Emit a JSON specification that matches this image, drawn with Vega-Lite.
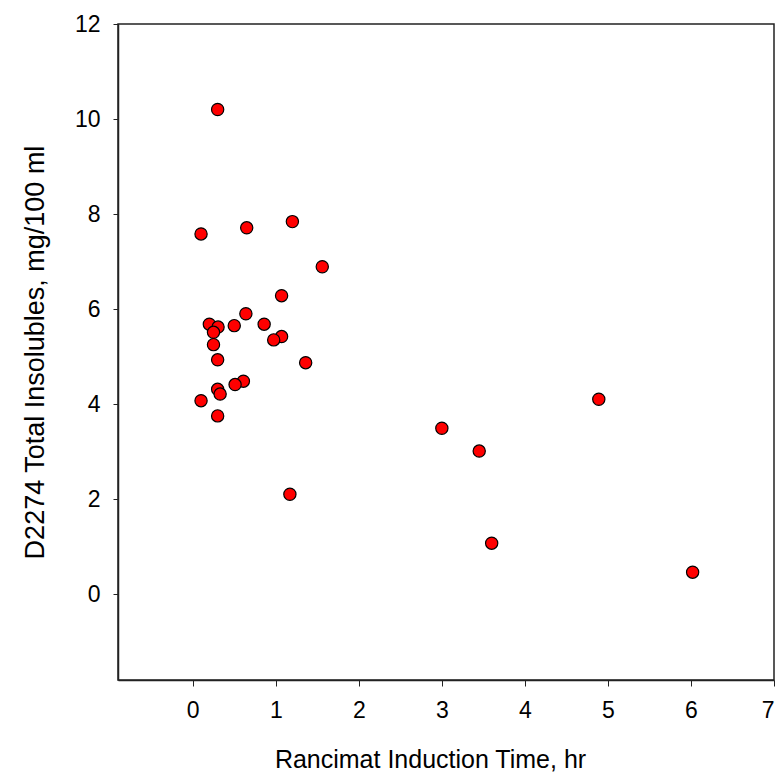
{
  "$schema": "https://vega.github.io/schema/vega-lite/v6.json",
  "width": 656,
  "height": 656,
  "autosize": "none",
  "padding": {"left": 118, "top": 24, "right": 2, "bottom": 99},
  "background": "white",
  "config": {
    "font": "Liberation Sans",
    "view": {"stroke": "#222", "strokeWidth": 1.5}
  },
  "data": {
    "values": [
      {"t": 0.30, "ins": 10.2},
      {"t": 0.10, "ins": 7.58},
      {"t": 0.65, "ins": 7.71},
      {"t": 1.20, "ins": 7.84},
      {"t": 1.56, "ins": 6.89},
      {"t": 1.07, "ins": 6.28},
      {"t": 0.64, "ins": 5.90},
      {"t": 0.20, "ins": 5.68},
      {"t": 0.305, "ins": 5.62},
      {"t": 0.25, "ins": 5.51},
      {"t": 0.50, "ins": 5.65},
      {"t": 0.86, "ins": 5.68},
      {"t": 1.07, "ins": 5.42},
      {"t": 0.975, "ins": 5.35},
      {"t": 0.25, "ins": 5.25},
      {"t": 0.30, "ins": 4.93},
      {"t": 1.36, "ins": 4.87},
      {"t": 0.61, "ins": 4.48},
      {"t": 0.51, "ins": 4.41},
      {"t": 0.30, "ins": 4.31},
      {"t": 0.33, "ins": 4.21},
      {"t": 0.10, "ins": 4.07},
      {"t": 0.30, "ins": 3.75},
      {"t": 1.17, "ins": 2.10},
      {"t": 3.00, "ins": 3.49},
      {"t": 3.45, "ins": 3.01},
      {"t": 3.60, "ins": 1.07},
      {"t": 4.89, "ins": 4.10},
      {"t": 6.02, "ins": 0.46}
    ]
  },
  "mark": {"type": "point", "filled": true, "shape": "circle", "size": 150, "fill": "#ff0000", "stroke": "#000000", "strokeWidth": 1.2, "opacity": 1},
  "encoding": {
    "x": {
      "field": "t", "type": "quantitative",
      "scale": {"domain": [-0.9, 7], "nice": false, "zero": false},
      "axis": {
        "title": "Rancimat Induction Time, hr",
        "values": [0, 1, 2, 3, 4, 5, 6, 7],
        "grid": false,
        "domainColor": "#222", "domainWidth": 1.5,
        "tickColor": "#222", "tickSize": 6, "tickWidth": 1,
        "labelFontSize": 23, "labelColor": "#000", "labelPadding": 13, "labelFont": "Liberation Sans",
        "titleFontSize": 25, "titleFontWeight": "normal", "titleColor": "#000", "titleFont": "Liberation Sans",
        "titlePadding": 25, "titleX": 312
      }
    },
    "y": {
      "field": "ins", "type": "quantitative",
      "scale": {"domain": [-1.81, 12], "nice": false, "zero": false},
      "axis": {
        "title": "D2274 Total Insolubles, mg/100 ml",
        "values": [0, 2, 4, 6, 8, 10, 12],
        "grid": false,
        "domainColor": "#222", "domainWidth": 1.5,
        "tickColor": "#222", "tickSize": 5, "tickWidth": 1,
        "labelFontSize": 23, "labelColor": "#000", "labelPadding": 13, "labelFont": "Liberation Sans",
        "titleFontSize": 27, "titleFontWeight": "normal", "titleColor": "#000", "titleFont": "Liberation Sans",
        "titlePadding": 25
      }
    }
  }
}
